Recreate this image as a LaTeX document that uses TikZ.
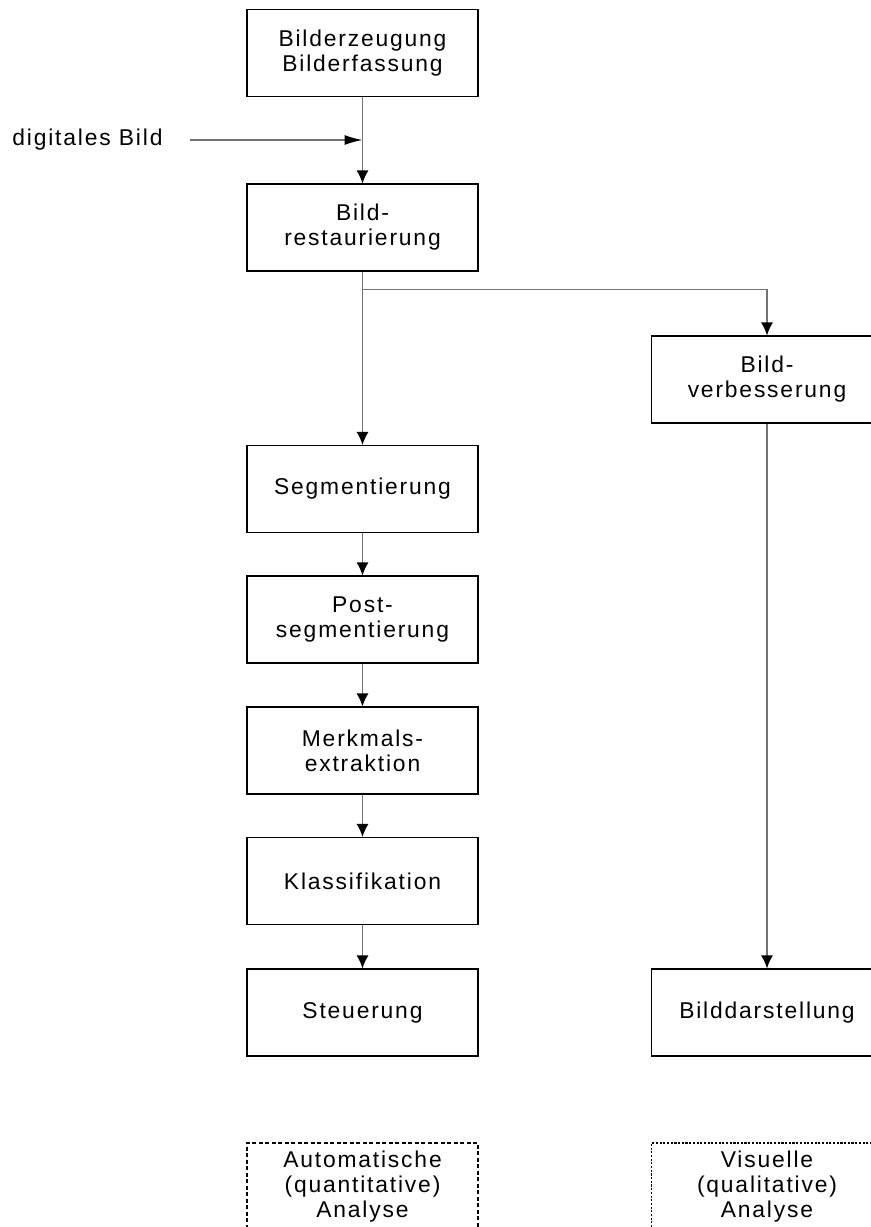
\documentclass[tikz,border=0pt]{standalone}
\usepackage{fontspec}
\setmainfont{Liberation Sans}[LetterSpace=8]
\usetikzlibrary{arrows.meta}

\begin{document}
\begin{tikzpicture}[x=0.02cm,y=-0.02cm,
    box/.style={draw,line width=0.6pt,minimum width=4.62cm,minimum height=1.74cm,
        align=center,inner sep=0pt,font=\fontsize{13}{14.2}\selectfont},
    dbox/.style={box,dash pattern=on 2.3pt off 1.4pt},
    fbox/.style={box,dash pattern=on 1.2pt off 0.9pt},
    conn/.style={draw=black!55,line width=0.8pt,-{Latex[length=0.26cm,width=0.24cm,color=black]}}]
    \pgfmathsetmacro{\xl}{362.5}
    \pgfmathsetmacro{\xr}{767}
    \useasboundingbox (0,0) rectangle (871,1227);

    % linke Spalte
    \node[box] (erz) at (\xl,53) {Bilderzeugung\\Bilderfassung};
    \node[box] (rest) at (\xl,227.5) {Bild-\\restaurierung};
    \node[box] (seg) at (\xl,489) {Segmentierung};
    \node[box] (post) at (\xl,619.5) {Post-\\segmentierung};
    \node[box] (merk) at (\xl,750.5) {Merkmals-\\extraktion};
    \node[box] (klass) at (\xl,881) {Klassifikation};
    \node[box] (steu) at (\xl,1012.5) {Steuerung};
    \node[dbox] (auto) at (\xl,1186.5) {Automatische\\(quantitative)\\Analyse};

    % rechte Spalte
    \node[box] (verb) at (\xr,379.5) {Bild-\\verbesserung};
    \node[box] (darst) at (\xr,1012.5) {Bilddarstellung};
    \node[fbox] (visu) at (\xr,1186.5) {Visuelle\\(qualitative)\\Analyse};

    % Eingang
    \node[anchor=west,inner sep=0pt,font=\fontsize{13}{14.2}\selectfont] (dig) at (12,140) {digitales Bild};
    \coordinate (ein) at (190,140);
    \draw[conn,-{Latex[length=0.36cm,width=0.2cm,color=black]}] (ein) -- (ein -| erz.south);

    \draw[conn] (erz) -- (rest);
    \draw[conn] (rest) -- (seg);
    \draw[conn] (rest.south) ++(0,18) -| (verb.north);
    \draw[conn] (seg) -- (post);
    \draw[conn] (post) -- (merk);
    \draw[conn] (merk) -- (klass);
    \draw[conn] (klass) -- (steu);
    \draw[conn] (verb) -- (darst);

\end{tikzpicture}
\end{document}
